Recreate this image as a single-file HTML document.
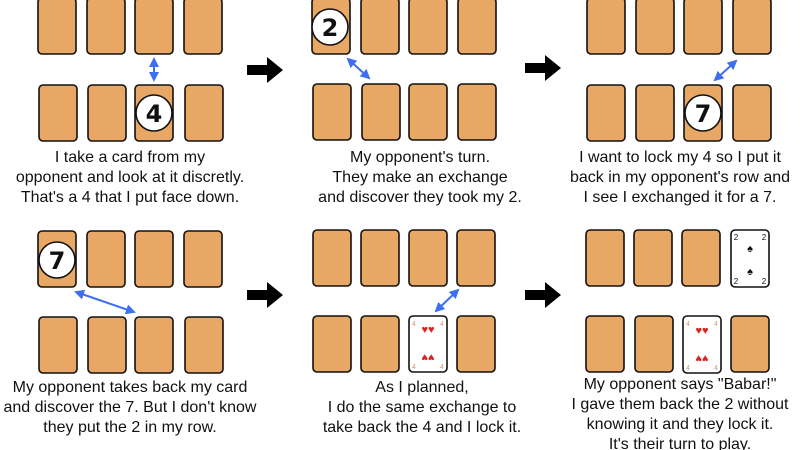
<!DOCTYPE html>
<html><head><meta charset="utf-8"><style>
html,body{margin:0;padding:0;background:#fff;}
svg{display:block}
text{font-family:"Liberation Sans",sans-serif;font-size:16px;fill:#111;text-anchor:middle}
.c{fill:#e8a764;stroke:#111;stroke-width:1.6}
.f{fill:#fff;stroke:#111;stroke-width:1.6}
.b{stroke:#3d6ff0;stroke-width:2;fill:none}
.n{font-size:24px;font-weight:bold;font-family:"DejaVu Sans",sans-serif}
</style></head><body>
<svg width="800" height="450" viewBox="0 0 800 450">
<defs>
<marker id="a" viewBox="0 0 10 10" refX="8" refY="5" markerWidth="5" markerHeight="5" orient="auto-start-reverse"><path d="M0,0L10,5L0,10z" fill="#3d6ff0"/></marker>
<g id="card"><rect class="c" x="0" y="0" width="38" height="56" rx="4"/></g>
<g id="bar"><rect x="0" y="-5" width="22" height="10" fill="#000"/><path d="M20,-13L36,0L20,13z" fill="#000"/></g>
</defs>
<!-- Panel 1 -->
<use href="#card" x="38" y="-2"/><use href="#card" x="87" y="-2"/><use href="#card" x="135" y="-2"/><use href="#card" x="184" y="-2"/>
<use href="#card" x="39" y="85"/><use href="#card" x="88" y="85"/><use href="#card" x="135" y="85"/><use href="#card" x="185" y="85"/>
<circle cx="154" cy="113" r="18" class="f"/><text x="154" y="122" class="n">4</text>
<line x1="154" y1="59" x2="154" y2="80" class="b" marker-start="url(#a)" marker-end="url(#a)"/>
<text x="130" y="162">I take a card from my</text>
<text x="130" y="182">opponent and look at it discretly.</text>
<text x="130" y="202">That's a 4 that I put face down.</text>
<use href="#bar" x="247" y="70"/>
<!-- Panel 2 -->
<use href="#card" x="312" y="-2"/><use href="#card" x="361" y="-2"/><use href="#card" x="409" y="-2"/><use href="#card" x="458" y="-2"/>
<use href="#card" x="313" y="84"/><use href="#card" x="362" y="84"/><use href="#card" x="409" y="84"/><use href="#card" x="458" y="84"/>
<circle cx="330" cy="27" r="18" class="f"/><text x="330" y="36" class="n">2</text>
<line x1="348" y1="59" x2="369" y2="78" class="b" marker-start="url(#a)" marker-end="url(#a)"/>
<text x="420" y="162">My opponent's turn.</text>
<text x="420" y="182">They make an exchange</text>
<text x="420" y="202">and discover they took my 2.</text>
<use href="#bar" x="525" y="68"/>
<!-- Panel 3 -->
<use href="#card" x="587" y="-2"/><use href="#card" x="636" y="-2"/><use href="#card" x="684" y="-2"/><use href="#card" x="733" y="-2"/>
<use href="#card" x="587" y="85"/><use href="#card" x="636" y="85"/><use href="#card" x="684" y="85"/><use href="#card" x="733" y="85"/>
<circle cx="703" cy="113" r="18" class="f"/><text x="703" y="122" class="n">7</text>
<line x1="715" y1="80" x2="736" y2="61" class="b" marker-start="url(#a)" marker-end="url(#a)"/>
<text x="680" y="162">I want to lock my 4 so I put it</text>
<text x="680" y="182">back in my opponent's row and</text>
<text x="680" y="202">I see I exchanged it for a 7.</text>
<!-- Panel 4 -->
<use href="#card" x="38" y="231"/><use href="#card" x="87" y="231"/><use href="#card" x="135" y="231"/><use href="#card" x="184" y="231"/>
<use href="#card" x="39" y="317"/><use href="#card" x="88" y="317"/><use href="#card" x="135" y="317"/><use href="#card" x="185" y="317"/>
<circle cx="57" cy="260" r="18" class="f"/><text x="57" y="269" class="n">7</text>
<line x1="76" y1="292" x2="134" y2="312" class="b" marker-start="url(#a)" marker-end="url(#a)"/>
<text x="130" y="392">My opponent takes back my card</text>
<text x="130" y="412">and discover the 7. But I don't know</text>
<text x="130" y="432">they put the 2 in my row.</text>
<use href="#bar" x="247" y="295"/>
<!-- Panel 5 -->
<use href="#card" x="313" y="230"/><use href="#card" x="361" y="230"/><use href="#card" x="409" y="230"/><use href="#card" x="457" y="230"/>
<use href="#card" x="313" y="316"/><use href="#card" x="361" y="316"/><use href="#card" x="457" y="316"/>
<g transform="translate(409,316)"><rect class="f" width="38" height="56" rx="4"/>
<text x="5" y="10" style="font-size:7px;fill:#c97">4</text><text x="33" y="10" style="font-size:7px;fill:#c97">4</text>
<text x="5" y="53" style="font-size:7px;fill:#c97">4</text><text x="33" y="53" style="font-size:7px;fill:#c97">4</text>
<text x="19" y="17" style="font-size:11px;fill:#d22">♥♥</text><text x="19" y="46" style="font-size:11px;fill:#d22" transform="rotate(180 19 42)">♥♥</text></g>
<line x1="436" y1="311" x2="458" y2="290" class="b" marker-start="url(#a)" marker-end="url(#a)"/>
<text x="422" y="392">As I planned,</text>
<text x="422" y="412">I do the same exchange to</text>
<text x="422" y="432">take back the 4 and I lock it.</text>
<use href="#bar" x="525" y="295"/>
<!-- Panel 6 -->
<use href="#card" x="586" y="230"/><use href="#card" x="634" y="230"/><use href="#card" x="682" y="230"/>
<g transform="translate(731,230)"><rect class="f" width="38" height="57" rx="4"/>
<text x="5" y="10" style="font-size:8px">2</text><text x="33" y="10" style="font-size:8px">2</text>
<text x="5" y="54" style="font-size:8px">2</text><text x="33" y="54" style="font-size:8px">2</text>
<text x="19" y="22" style="font-size:11px">♠</text><text x="19" y="45" style="font-size:11px">♠</text></g>
<use href="#card" x="586" y="316"/><use href="#card" x="635" y="316"/><use href="#card" x="731" y="316"/>
<g transform="translate(683,316)"><rect class="f" width="38" height="57" rx="4"/>
<text x="5" y="10" style="font-size:7px;fill:#c97">4</text><text x="33" y="10" style="font-size:7px;fill:#c97">4</text>
<text x="5" y="54" style="font-size:7px;fill:#c97">4</text><text x="33" y="54" style="font-size:7px;fill:#c97">4</text>
<text x="19" y="18" style="font-size:11px;fill:#d22">♥♥</text><text x="19" y="47" style="font-size:11px;fill:#d22" transform="rotate(180 19 43)">♥♥</text></g>
<text x="680" y="389">My opponent says "Babar!"</text>
<text x="680" y="409">I gave them back the 2 without</text>
<text x="680" y="429">knowing it and they lock it.</text>
<text x="680" y="449">It's their turn to play.</text>
</svg>
</body></html>
